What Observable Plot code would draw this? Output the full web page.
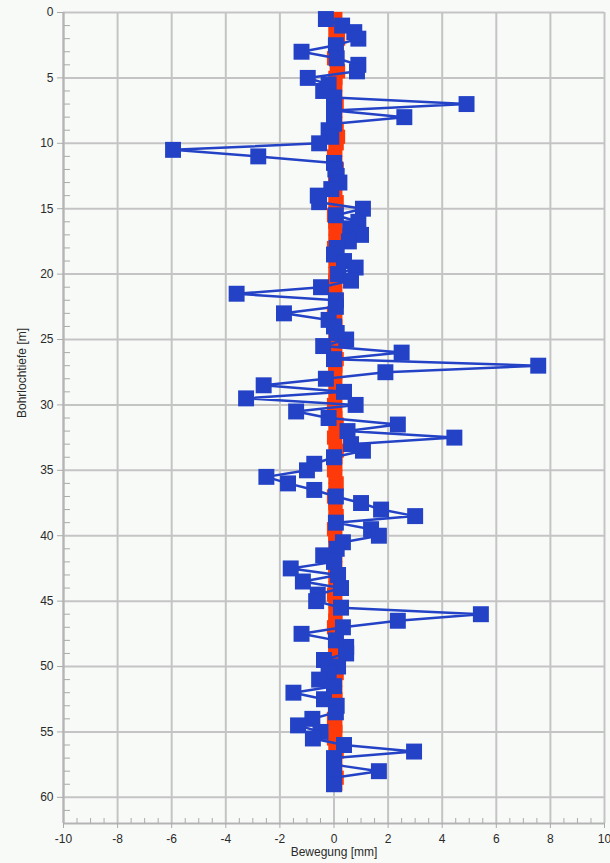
<!DOCTYPE html>
<html>
<head>
<meta charset="utf-8">
<script src="https://cdn.jsdelivr.net/npm/d3@7"></script>
<script src="https://cdn.jsdelivr.net/npm/@observablehq/plot@0.6"></script>
<style>
  html, body { margin: 0; padding: 0; background: #f8faf8; }
  #chart svg { display: block; }
</style>
</head>
<body>
<div id="chart"></div>
<script>
// Depth (m) of each reading
const depths = [
  0.5, 1.0, 1.5, 2.0, 2.5, 3.0, 3.5, 4.0, 4.5, 5.0,
  5.5, 6.0, 6.5, 7.0, 7.5, 8.0, 8.5, 9.0, 9.5, 10.0,
  10.5, 11.0, 11.5, 12.0, 12.5, 13.0, 13.5, 14.0, 14.5, 15.0,
  15.5, 16.0, 16.5, 17.0, 17.5, 18.0, 18.5, 19.0, 19.5, 20.0,
  20.5, 21.0, 21.5, 22.0, 22.5, 23.0, 23.5, 24.0, 24.5, 25.0,
  25.5, 26.0, 26.5, 27.0, 27.5, 28.0, 28.5, 29.0, 29.5, 30.0,
  30.5, 31.0, 31.5, 32.0, 32.5, 33.0, 33.5, 34.0, 34.5, 35.0,
  35.5, 36.0, 36.5, 37.0, 37.5, 38.0, 38.5, 39.0, 39.5, 40.0,
  40.5, 41.0, 41.5, 42.0, 42.5, 43.0, 43.5, 44.0, 44.5, 45.0,
  45.5, 46.0, 46.5, 47.0, 47.5, 48.0, 48.5, 49.0, 49.5, 50.0,
  50.5, 51.0, 51.5, 52.0, 52.5, 53.0, 53.5, 54.0, 54.5, 55.0,
  55.5, 56.0, 56.5, 57.0, 57.5, 58.0, 58.5, 59.0
];
// Blue series: movement (mm)
const blueMove = [
  -0.3, 0.3, 0.75, 0.9, 0.07, -1.2, 0.1, 0.9, 0.85, -0.97,
  -0.2, -0.4, 0.0, 4.9, 0.0, 2.6, 0.0, -0.2, -0.1, -0.55,
  -5.95, -2.8, 0.0, 0.05, 0.1, 0.2, -0.1, -0.6, -0.55, 1.07,
  0.07, 0.9, 0.6, 1.0, 0.55, 0.1, 0.0, 0.37, 0.8, 0.15,
  0.63, -0.48, -3.6, 0.07, 0.07, -1.85, -0.2, 0.0, 0.1, 0.45,
  -0.4, 2.5, 0.0, 7.55, 1.9, -0.3, -2.6, 0.37, -3.25, 0.8,
  -1.4, -0.2, 2.36, 0.5, 4.45, 0.63, 1.07, 0.0, -0.73, -1.0,
  -2.5, -1.7, -0.73, 0.07, 1.0, 1.74, 3.0, 0.07, 1.37, 1.66,
  0.33, 0.1, -0.4, 0.0, -1.6, 0.15, -1.15, 0.26, -0.6, -0.66,
  0.26, 5.43, 2.36, 0.33, -1.2, 0.07, 0.45, 0.45, -0.37, 0.15,
  -0.2, -0.55, 0.0, -1.5, -0.37, 0.1, 0.07, -0.8, -1.33, -0.5,
  -0.78, 0.37, 2.96, 0.0, 0.0, 1.66, 0.0, 0.0
];
// Red series: movement (mm)
const redMove = [
  0.05, 0.1, 0.05, 0.15, 0.1, 0.05, 0.0, 0.1, 0.15, 0.05,
  0.05, 0.0, 0.05, 0.1, 0.05, 0.0, 0.05, 0.1, 0.15, 0.1,
  0.05, 0.0, 0.05, 0.1, 0.05, 0.05, 0.0, 0.05, 0.1, 0.05,
  0.0, 0.05, 0.05, 0.1, 0.05, 0.0, 0.0, 0.05, 0.1, 0.05,
  0.05, 0.0, 0.05, 0.1, 0.05, 0.0, 0.05, 0.05, 0.1, 0.05,
  0.0, 0.05, 0.1, 0.05, 0.05, 0.0, 0.05, 0.1, 0.05, 0.0,
  0.05, 0.05, 0.1, 0.05, 0.0, 0.05, 0.1, 0.05, 0.05, 0.0,
  0.05, 0.1, 0.05, 0.0, 0.05, 0.05, 0.1, 0.05, 0.0, 0.05,
  0.05, 0.1, 0.05, 0.0, 0.05, 0.05, 0.1, 0.05, 0.0, 0.05,
  0.1, 0.05, 0.05, 0.0, 0.05, 0.1, 0.05, 0.05, 0.0, 0.05,
  0.1, 0.05, 0.0, 0.05, 0.05, 0.1, 0.05, 0.0, 0.05, 0.05,
  0.0, 0.05, 0.1, 0.05, 0.0, 0.05, 0.1, 0.05
];
const xTicks = [-10, -8, -6, -4, -2, 0, 2, 4, 6, 8, 10];
const xMinorTicks = [
  -9.5, -9, -8.5, -7.5, -7, -6.5, -5.5, -5, -4.5, -3.5, -3, -2.5, -1.5, -1, -0.5,
  0.5, 1, 1.5, 2.5, 3, 3.5, 4.5, 5, 5.5, 6.5, 7, 7.5, 8.5, 9, 9.5
];
const yTicks = [0, 5, 10, 15, 20, 25, 30, 35, 40, 45, 50, 55, 60];
const yMinorTicks = [
  1, 2, 3, 4, 6, 7, 8, 9, 11, 12, 13, 14, 16, 17, 18, 19, 21, 22, 23, 24,
  26, 27, 28, 29, 31, 32, 33, 34, 36, 37, 38, 39, 41, 42, 43, 44,
  46, 47, 48, 49, 51, 52, 53, 54, 56, 57, 58, 59, 61
];
const xTitle = "Bewegung [mm]";
const yTitle = "Bohrlochtiefe [m]";

const blue = depths.map((d, i) => ({depth: d, move: blueMove[i]}));
const red = depths.map((d, i) => ({depth: d, move: redMove[i]}));

const BLUE = "#2342c6";
const RED = "#ff3a0a";
const GRID = "#c4c4c4";
const plain = d => String(d);

const chart = Plot.plot({
  width: 610,
  height: 863,
  marginLeft: 63,
  marginRight: 6,
  marginTop: 12,
  marginBottom: 40,
  style: {background: "#f8faf8", fontFamily: "'Liberation Sans', Arial, sans-serif", fontSize: "12px", color: "#2a2a2a"},
  x: {domain: [-10, 10]},
  y: {domain: [0, 62], reverse: true},
  marks: [
    Plot.gridX(xTicks, {stroke: GRID, strokeWidth: 2, strokeOpacity: 1}),
    Plot.gridY(yTicks, {stroke: GRID, strokeWidth: 2, strokeOpacity: 1}),
    Plot.ruleX([-10], {stroke: "#b4b4b4", strokeWidth: 2}),
    Plot.ruleY([62], {stroke: "#b4b4b4", strokeWidth: 2}),
    Plot.axisY(yTicks, {anchor: "left", tickSize: 6, tickPadding: 4, tickFormat: plain, label: null, stroke: "#aaa", fill: "#2a2a2a"}),
    Plot.axisY(yMinorTicks, {anchor: "left", tickSize: 6, dx: 7, tickFormat: () => "", label: null, stroke: "#aaa"}),
    Plot.axisX(xTicks, {anchor: "bottom", tickSize: 5, tickPadding: 6, tickFormat: plain, label: null, stroke: "#aaa", fill: "#2a2a2a"}),
    Plot.axisX(xMinorTicks, {anchor: "bottom", tickSize: 5, dy: -5, tickFormat: () => "", label: null, stroke: "#aaa"}),
    Plot.text([yTitle], {text: d => d, frameAnchor: "left", dx: -41, rotate: -90, fill: "#2a2a2a"}),
    Plot.text([xTitle], {text: d => d, frameAnchor: "bottom", dy: 32, fill: "#2a2a2a"}),
    Plot.line(red, {x: "move", y: "depth", stroke: RED, strokeWidth: 2}),
    Plot.dot(red, {x: "move", y: "depth", symbol: "square", r: 8, fill: RED, stroke: "none"}),
    Plot.line(blue, {x: "move", y: "depth", stroke: BLUE, strokeWidth: 2.5}),
    Plot.dot(blue, {x: "move", y: "depth", symbol: "square", r: 9, fill: BLUE, stroke: "none"})
  ]
});
document.getElementById("chart").appendChild(chart);
</script>
</body>
</html>
